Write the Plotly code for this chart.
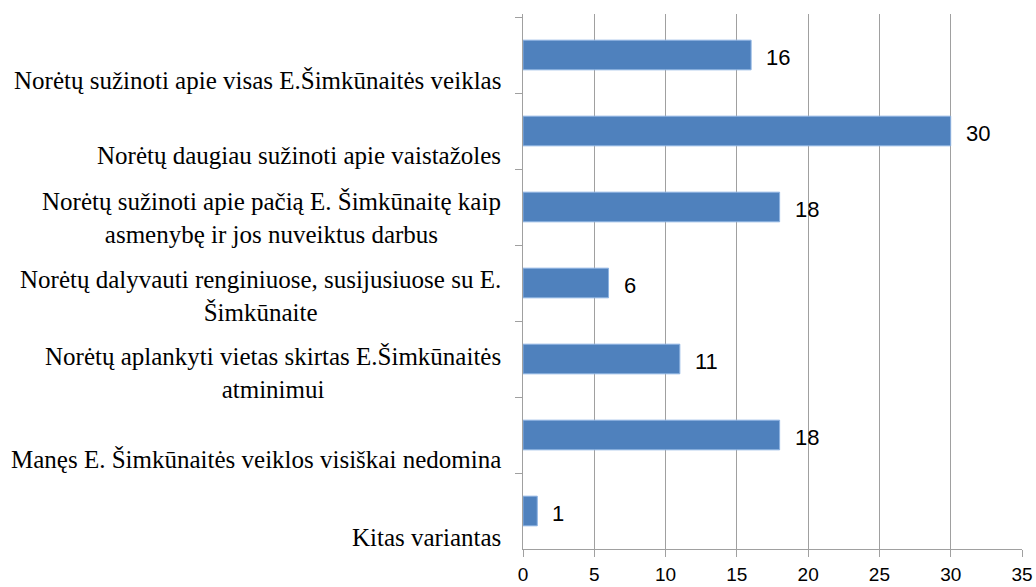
import plotly.graph_objects as go

categories = [
    "Norėtų sužinoti apie visas E.Šimkūnaitės veiklas",
    "Norėtų daugiau sužinoti apie vaistažoles",
    "Norėtų sužinoti apie pačią E. Šimkūnaitę kaip<br>asmenybę ir jos nuveiktus darbus",
    "Norėtų dalyvauti renginiuose, susijusiuose su E.<br>Šimkūnaite",
    "Norėtų aplankyti vietas skirtas E.Šimkūnaitės<br>atminimui",
    "Manęs E. Šimkūnaitės veiklos visiškai nedomina",
    "Kitas variantas",
]
values = [16, 30, 18, 6, 11, 18, 1]
label_yshift = [-25, -24, -10, -13, -13, -24, -26]
x_ticks = [0, 5, 10, 15, 20, 25, 30, 35]

fig = go.Figure()
fig.add_trace(go.Bar(
    x=values, y=categories, orientation="h",
    marker=dict(color="#4F81BD", line=dict(color="#8DB3E2", width=1)),
    width=0.39, hoverinfo="skip",
))

for cat, v in zip(categories, values):
    fig.add_annotation(
        x=v, y=cat, xref="x", yref="y", text=str(v), showarrow=False,
        xanchor="left", yanchor="middle", xshift=13, yshift=-2,
        font=dict(family="Liberation Sans, Arial, sans-serif", size=22, color="#000000"),
    )

for cat, ys in zip(categories, label_yshift):
    fig.add_annotation(
        x=0, y=cat, xref="paper", yref="y", text=cat, showarrow=False,
        xanchor="right", yanchor="middle", xshift=-20, yshift=ys, align="center",
        font=dict(family="Liberation Serif, Times New Roman, serif", size=25, color="#000000"),
    )

fig.update_layout(
    width=1036, height=587,
    margin=dict(l=523, r=14, t=14, b=38),
    paper_bgcolor="white", plot_bgcolor="white",
    showlegend=False,
    xaxis=dict(
        range=[0, 35], tickvals=x_ticks, ticktext=[str(t) for t in x_ticks],
        showgrid=True, gridcolor="#A0A0A0", gridwidth=1,
        showline=True, linecolor="#A0A0A0", linewidth=1,
        ticks="outside", ticklen=7, tickcolor="#A0A0A0", ticklabelstandoff=1,
        tickfont=dict(family="Liberation Sans, Arial, sans-serif", size=19, color="#000000"),
        zeroline=False, fixedrange=True, automargin=False,
    ),
    yaxis=dict(
        categoryorder="array", categoryarray=categories, autorange="reversed",
        showticklabels=False, showgrid=False,
        showline=True, linecolor="#A0A0A0", linewidth=1,
        ticks="outside", ticklen=7, tickcolor="#A0A0A0", tickson="boundaries",
        zeroline=False, fixedrange=True, automargin=False,
    ),
)

fig.write_html(
    "out.html",
    config={"displayModeBar": False},
    post_script="document.body.style.margin='0';document.body.style.overflow='hidden';",
)
